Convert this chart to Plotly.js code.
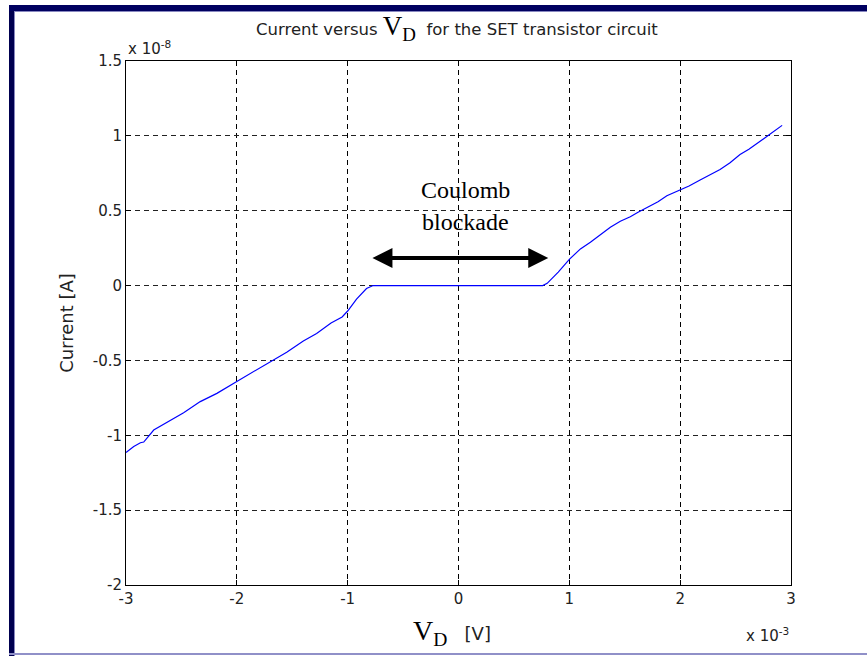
<!DOCTYPE html>
<html><head><meta charset="utf-8">
<script src="https://cdn.plot.ly/plotly-3.0.1.min.js"></script>
<style>
body{margin:0;padding:0;background:#fff;}
#wrap{position:relative;width:867px;height:656px;overflow:hidden;}
#plot{position:absolute;left:0;top:0;width:867px;height:656px;}
.b{position:absolute;pointer-events:none;}
</style></head>
<body><div id="wrap"><div id="plot"></div>
<div class="b" style="left:9px;top:5px;width:5px;height:651px;background:#000050;"></div>
<div class="b" style="left:14px;top:11px;width:1px;height:645px;background:#8888c0;"></div>
<div class="b" style="left:9px;top:5px;width:858px;height:6px;background:#000060;"></div>
<div class="b" style="left:14px;top:11px;width:853px;height:1px;background:#8888c0;"></div>
<div class="b" style="left:9px;top:653px;width:858px;height:2px;background:#9090c8;"></div>
</div>
<script>
// V_D in units of 1e-3 V, current in units of 1e-8 A
const vd = [-3.00,-2.93,-2.87,-2.84,-2.75,-2.63,-2.48,-2.33,-2.18,-2.00,-1.85,-1.70,-1.55,-1.40,-1.28,-1.15,-1.05,-1.00,-0.92,-0.83,-0.77,
            0.00,0.76,0.80,0.90,1.00,1.10,1.19,1.28,1.37,1.46,1.55,1.62,1.70,1.80,1.88,2.00,2.08,2.18,2.27,2.36,2.45,2.54,2.62,2.70,2.80,2.92];
const current = [-1.115,-1.075,-1.05,-1.045,-0.965,-0.915,-0.85,-0.775,-0.72,-0.64,-0.575,-0.51,-0.445,-0.37,-0.32,-0.25,-0.21,-0.17,-0.09,-0.02,0.0,
            0.0,0.0,0.015,0.09,0.175,0.245,0.29,0.34,0.39,0.43,0.46,0.49,0.52,0.56,0.60,0.64,0.665,0.705,0.74,0.775,0.82,0.875,0.91,0.955,1.005,1.07];
const xTicks = [-3,-2,-1,0,1,2,3];
const xTickText = ['-3','-2','-1','0','1','2','3'];
const yTicks = [-2,-1.5,-1,-0.5,0,0.5,1,1.5];
const yTickText = ['-2','-1.5','-1','-0.5','0','0.5','1','1.5'];

const sans = 'DejaVu Sans, Liberation Sans, Arial, sans-serif';
const serif = 'Liberation Serif, Times New Roman, serif';
const tickFont = {family:sans, size:15, color:'#222'};

const data = [{
  x: vd, y: current, type:'scatter', mode:'lines',
  line:{color:'#0000ff', width:1.2}, hoverinfo:'skip'
}];

const layout = {
  width:867, height:656,
  margin:{l:126, r:76, t:61, b:71},
  paper_bgcolor:'#ffffff', plot_bgcolor:'#ffffff',
  showlegend:false,
  title:{
    text:"Current versus <span style='font-family:Liberation Serif;font-size:27px;color:#000'>V<sub>D</sub></span>  for the SET transistor circuit",
    font:{family:sans, size:16.5, color:'#222'},
    x:0.527, xanchor:'center', y:0.955, yanchor:'middle'
  },
  xaxis:{
    range:[-3,3], tickvals:xTicks, ticktext:xTickText, tickfont:tickFont,
    showgrid:true, gridcolor:'#000', griddash:'5px,4px', gridwidth:1,
    zeroline:false, showline:true, linecolor:'#000', linewidth:1, mirror:'ticks',
    ticks:'inside', ticklen:5, tickcolor:'#000'
  },
  yaxis:{
    range:[-2,1.5], tickvals:yTicks, ticktext:yTickText, tickfont:tickFont,
    showgrid:true, gridcolor:'#222', griddash:'5px,4px', gridwidth:1,
    zeroline:false, showline:true, linecolor:'#000', linewidth:1, mirror:'ticks',
    ticks:'inside', ticklen:5, tickcolor:'#000',
    title:{text:'Current [A]', font:{family:sans, size:18, color:'#222'}, standoff:14}
  },
  annotations:[
    {xref:'paper', yref:'paper', x:0.49, y:-0.09, xanchor:'center', yanchor:'middle', showarrow:false,
     text:"<span style='font-family:Liberation Serif;font-size:28px;color:#000'>V<sub>D</sub></span>   [V]",
     font:{family:sans, size:18, color:'#222'}},
    {xref:'paper', yref:'paper', x:1.0, y:-0.095, xanchor:'right', yanchor:'middle', showarrow:false,
     text:'x 10<sup>-3</sup>', font:{family:sans, size:15, color:'#222'}},
    {xref:'paper', yref:'paper', x:0.0, y:1.0, xanchor:'left', yanchor:'bottom', yshift:1, showarrow:false,
     text:'x 10<sup>-8</sup>', font:{family:sans, size:15, color:'#222'}},
    {xref:'x', yref:'y', x:0.06, y:0.64, showarrow:false, xanchor:'center', yanchor:'middle',
     text:'Coulomb', font:{family:serif, size:24, color:'#000'}},
    {xref:'x', yref:'y', x:0.06, y:0.425, showarrow:false, xanchor:'center', yanchor:'middle',
     text:'blockade', font:{family:serif, size:24, color:'#000'}},
    {xref:'x', yref:'y', x:0.81, y:0.184, axref:'x', ayref:'y', ax:-0.79, ay:0.184,
     showarrow:true, arrowside:'end+start', arrowhead:2, arrowsize:1, arrowwidth:4, arrowcolor:'#000', text:''}
  ]
};
Plotly.newPlot('plot', data, layout, {displayModeBar:false, staticPlot:true});
</script></body></html>
